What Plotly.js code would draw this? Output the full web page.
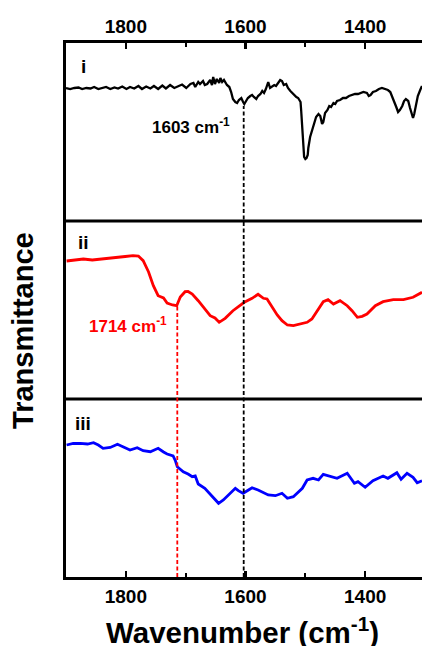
<!DOCTYPE html>
<html><head><meta charset="utf-8">
<script src="https://cdn.plot.ly/plotly-3.0.1.min.js"></script>
<style>html,body{margin:0;padding:0;overflow:hidden;background:#fff}#chart{width:422px;height:646px}</style>
</head><body><div id="chart"></div>
<script>
// Spectrum i (black)
const wnI = [1900,1893,1886,1879,1873,1866,1859,1853,1846,1839,1833,1826,1819,1813,1806,1799,1793,1786,1779,1773,1766,1759,1753,1746,1739,1733,1726,1719,1712,1706,1699,1692,1687,1684,1679,1676,1671,1668,1664,1659,1656,1654,1651,1648,1644,1642,1639,1636,1631,1627,1624,1621,1617,1614,1611,1607,1604,1602,1599,1596,1592,1589,1586,1582,1579,1575,1572,1569,1566,1562,1559,1556,1552,1549,1546,1542,1539,1536,1532,1529,1525,1522,1519,1515,1512,1508,1507,1505,1503,1502,1500,1498,1496,1495,1492,1488,1485,1482,1478,1475,1472,1470,1467,1463,1460,1457,1453,1450,1447,1442,1437,1432,1427,1422,1417,1412,1407,1403,1397,1394,1391,1387,1382,1377,1372,1367,1362,1358,1355,1352,1348,1345,1342,1338,1335,1332,1328,1325,1322,1320,1318,1315,1312,1308,1305];
const tI = [133,132,133,133.5,132,133,132.5,134,132,133,134,132,133.5,132.5,134.5,132,134,132.5,135,132,134.5,132.5,135,132,135.5,132.5,136,133,135,136.5,133,137,138,134,139,137,140,136,137,141,136,144,137,142,138,143,139,141,136,134,129,122,119,118,121,123,119,117,120,123,125,126,124,122,125,127,130,128,132,139,133,134,136,135,138,141,140,136,137,133,130,128,126,124,123,119,111,94,76,64,62,63,66,73,84,93,100,104,107,105,97,99,108,111,115,114,118,117,120,121,123,123,125,126,127,127,128,129,128,125,126,129,130,132,133,132,131,129,125,120,114,109,111,115,120,122,120,113,105,103,107,117,125,131,135];
// Spectrum ii (red)
const wnII = [1899,1884,1871,1856,1843,1829,1814,1801,1788,1779,1771,1762,1754,1746,1737,1731,1722,1715,1709,1701,1696,1689,1679,1668,1659,1651,1644,1634,1621,1602,1589,1579,1570,1564,1555,1547,1539,1530,1520,1508,1497,1489,1480,1470,1462,1453,1442,1430,1422,1413,1405,1397,1383,1370,1353,1336,1320,1305];
const tII = [138,139,140,139,140,141,141.7,142.5,143.3,143,138.3,127,113.3,103.3,101,96,94,93.3,102,107.3,107.5,105,98.3,90,83.3,81,76.7,80.7,88.3,96.7,100.7,104.7,100.7,100,91.7,84,78.3,74,73.3,75,76.7,80,88.3,97.3,99.3,95,98.3,93.3,88.3,81.7,82.7,85,93.3,97.3,99.3,99.3,101.7,106.7];
// Spectrum iii (blue)
const wnIII = [1899,1888,1876,1864,1854,1846,1838,1826,1814,1804,1793,1781,1771,1759,1746,1737,1731,1721,1717,1714,1704,1696,1689,1684,1679,1668,1655,1645,1637,1626,1617,1612,1604,1595,1589,1579,1570,1562,1550,1539,1530,1520,1505,1497,1487,1478,1470,1458,1447,1430,1418,1412,1400,1387,1370,1362,1347,1340,1330,1320,1313,1305];
const tIII = [132,133.5,133.7,133,134.3,132,128.7,129.5,132.7,130,127,129.3,126.3,125.3,128.7,125,123,121,116,110.3,105.3,103,100.3,101,93,88.7,80.3,73.7,77,83.7,88.7,86.3,83.7,87,89.3,87,84,82,81.3,83.7,78.7,80.3,88.7,97,98.7,97,102.7,101,98.7,103.7,93.7,95.3,89.7,96.3,101,98.7,104.3,97.7,103.7,99.7,94.3,96.3];

const panelLabels = ['i','ii','iii'];
const markerWn = [1603, 1714];
const markerText = ['1603 cm<sup>-1</sup>', '1714 cm<sup>-1</sup>'];
const tickVals = [1800, 1600, 1400];

const FONT = 'Liberation Sans, Arial, sans-serif';
const XR = [1900, 1305];
const YR = [0, 178];
const doms = [[2/3, 1], [1/3, 2/3], [0, 1/3]];

function interp(xs, ys, x) {
  for (let i = 0; i < xs.length - 1; i++) {
    const a = xs[i], b = xs[i+1];
    if ((x <= a && x >= b) || (x >= a && x <= b)) {
      const f = (x - a) / (b - a);
      return ys[i] + f * (ys[i+1] - ys[i]);
    }
  }
  return ys[0];
}
function toPaper(v, dom) { return dom[0] + (v - YR[0]) / (YR[1] - YR[0]) * (dom[1] - dom[0]); }

const traces = [
  {x: wnI, y: tI, xaxis: 'x', yaxis: 'y', mode: 'lines', line: {color: '#000000', width: 2.3}, hoverinfo: 'skip'},
  {x: wnII, y: tII, xaxis: 'x2', yaxis: 'y2', mode: 'lines', line: {color: '#ff0000', width: 2.8}, hoverinfo: 'skip'},
  {x: wnIII, y: tIII, xaxis: 'x3', yaxis: 'y3', mode: 'lines', line: {color: '#0000ff', width: 2.8}, hoverinfo: 'skip'}
];

const tickCommon = {
  range: XR, autorange: false, showgrid: false, zeroline: false,
  showline: true, linecolor: '#000', linewidth: 2.8,
  ticks: 'inside', ticklen: 6, tickwidth: 2.5, tickcolor: '#000',
  tickmode: 'array', tickvals: tickVals,
  minor: {tickmode: 'array', tickvals: [1700, 1500], ticks: 'inside', ticklen: 4, tickwidth: 2, tickcolor: '#000'},
  tickfont: {family: FONT, size: 19, color: '#000', weight: 'bold'}
};
const yCommon = {range: YR, autorange: false, showgrid: false, zeroline: false, showticklabels: false, ticks: '',
  showline: true, linecolor: '#000', linewidth: 2.8, fixedrange: true};

const blackTop = toPaper(interp(wnI, tI, markerWn[0]) - 3, doms[0]);
const redTop = toPaper(interp(wnII, tII, markerWn[1]) - 2, doms[1]);

function ann(text, xref, yref, x, y, size, color, extra) {
  return Object.assign({text: text, xref: xref, yref: yref, x: x, y: y, xanchor: 'center', yanchor: 'middle',
    showarrow: false, font: {family: FONT, size: size, color: color, weight: 'bold'}}, extra || {});
}

const layout = {
  width: 422, height: 646,
  margin: {l: 66, r: 0, t: 43, b: 69},
  paper_bgcolor: '#fff', plot_bgcolor: 'rgba(0,0,0,0)',
  showlegend: false,
  xaxis: Object.assign({}, tickCommon, {anchor: 'y', side: 'top'}),
  xaxis2: {matches: 'x', range: XR, anchor: 'y2', showgrid: false, zeroline: false, showticklabels: false, ticks: '', showline: false},
  xaxis3: Object.assign({}, tickCommon, {matches: 'x', anchor: 'y3', side: 'bottom'}),
  yaxis: Object.assign({}, yCommon, {domain: doms[0], anchor: 'x'}),
  yaxis2: Object.assign({}, yCommon, {domain: doms[1], anchor: 'x2'}),
  yaxis3: Object.assign({}, yCommon, {domain: doms[2], anchor: 'x3'}),
  shapes: [
    {type: 'line', xref: 'paper', yref: 'paper', x0: 0, x1: 1, y0: 2/3, y1: 2/3, line: {color: '#000', width: 2.8}},
    {type: 'line', xref: 'paper', yref: 'paper', x0: 0, x1: 1, y0: 1/3, y1: 1/3, line: {color: '#000', width: 2.8}},
    {type: 'line', xref: 'x', yref: 'paper', x0: markerWn[0], x1: markerWn[0], y0: 0, y1: blackTop, line: {color: '#000', width: 1.8, dash: '4px,2.5px'}},
    {type: 'line', xref: 'x', yref: 'paper', x0: markerWn[1], x1: markerWn[1], y0: 0, y1: redTop, line: {color: '#ff0000', width: 1.8, dash: '4px,2.5px'}}
  ],
  annotations: [
    ann(panelLabels[0], 'paper', 'paper', 0.048, 0.956, 19, '#000'),
    ann(panelLabels[1], 'paper', 'paper', 0.048, 0.627, 19, '#000'),
    ann(panelLabels[2], 'paper', 'paper', 0.048, 0.288, 19, '#000'),
    ann(markerText[0], 'x', 'y', 1691, 95, 17, '#000'),
    ann(markerText[1], 'x2', 'y2', 1796, 74, 17, '#ff0000'),
    ann('Transmittance', 'paper', 'paper', -0.121, 0.4625, 29, '#000', {textangle: -90}),
    ann('Wavenumber (cm<sup>-1</sup>)', 'paper', 'paper', 0.497, -0.1, 29.5, '#000')
  ]
};

Plotly.newPlot('chart', traces, layout, {staticPlot: true, displayModeBar: false});
</script>
</body></html>
